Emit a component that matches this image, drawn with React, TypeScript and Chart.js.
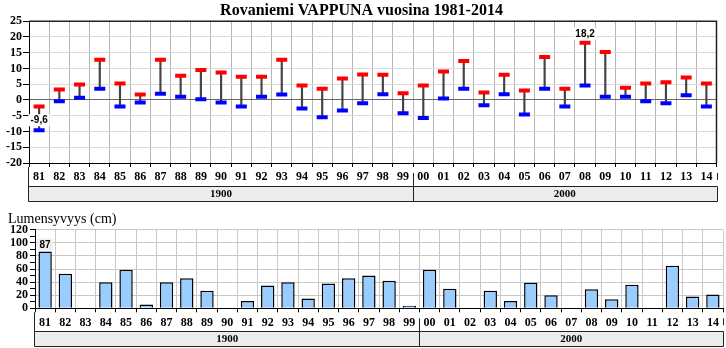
import React, { useEffect, useRef } from 'react';
import { Chart, registerables } from 'chart.js';

Chart.register(...registerables);

const years = ['81','82','83','84','85','86','87','88','89','90','91','92','93','94','95','96','97','98','99',
  '00','01','02','03','04','05','06','07','08','09','10','11','12','13','14'];
const maxTemp = [-2.1, 3.3, 4.9, 12.8, 5.2, 1.7, 12.8, 7.7, 9.5, 8.7, 7.4, 7.4, 12.8, 4.6, 3.6, 6.8, 8.1, 8.0, 2.1,
  4.6, 9.0, 12.4, 2.4, 8.0, 3.0, 13.6, 3.6, 18.2, 15.2, 3.9, 5.2, 5.6, 7.1, 5.2];
const minTemp = [-9.6, -0.4, 0.7, 3.6, -2.1, -0.8, 2.0, 1.0, 0.2, -0.8, -2.1, 1.0, 1.7, -2.7, -5.5, -3.3, -1.0, 1.8, -4.2,
  -5.7, 0.5, 3.6, -1.7, 1.8, -4.6, 3.6, -2.1, 4.6, 1.0, 1.0, -0.4, -1.0, 1.5, -2.1];
const snowDepth = [87, 53, 0, 40, 59, 6, 40, 46, 27, 0, 11, 35, 40, 15, 38, 46, 50, 42, 4,
  59, 30, 0, 27, 11, 39, 20, 0, 29, 14, 36, 0, 65, 18, 21];
const groupLabels = ['1900', '2000'];
const groupSizes = [19, 15];
const tempMin = -20, tempMax = 25, tempStep = 5;
const snowMin = 0, snowMax = 120, snowStep = 20;

const title = 'Rovaniemi VAPPUNA vuosina 1981-2014';
const snowTitle = 'Lumensyvyys (cm)';

const SERIF = "'Liberation Serif', 'Times New Roman', serif";
const SANS = "'Liberation Sans', Arial, sans-serif";

const fmt = (v: number) => String(v).replace('.', ',');

const groupPlugin = {
  id: 'groupRow',
  afterDraw(chart: any) {
    const { ctx, chartArea, scales } = chart;
    const x = scales.x;
    const b = chartArea.bottom;
    const half = (x.getPixelForValue(1) - x.getPixelForValue(0)) / 2;
    const top = Math.round(b + 23) + 0.5;
    const bot = Math.round(b + 38) + 0.5;
    const left = Math.round(chartArea.left) - 0.5;
    const right = Math.round(chartArea.right) + 0.5;
    ctx.save();
    ctx.fillStyle = '#ececec';
    ctx.fillRect(left, top, right - left, bot - top);
    ctx.strokeStyle = '#222';
    ctx.lineWidth = 1;
    ctx.beginPath();
    ctx.moveTo(left, top); ctx.lineTo(right, top);
    ctx.moveTo(left, bot); ctx.lineTo(right, bot);
    ctx.moveTo(right, top); ctx.lineTo(right, bot);
    ctx.moveTo(left, b + 4); ctx.lineTo(left, bot);
    ctx.moveTo(right, b + 10); ctx.lineTo(right, b + 17);
    ctx.stroke();
    let idx = 0;
    ctx.font = `bold 11px ${SERIF}`;
    ctx.fillStyle = '#000';
    ctx.textAlign = 'center';
    ctx.textBaseline = 'middle';
    groupLabels.forEach((lab, g) => {
      const s = x.getPixelForValue(idx) - half;
      const e = x.getPixelForValue(idx + groupSizes[g] - 1) + half;
      if (g > 0) {
        const px = Math.round(s) + 0.5;
        ctx.beginPath();
        ctx.moveTo(px, b + 10); ctx.lineTo(px, bot);
        ctx.stroke();
      }
      ctx.fillText(lab, (s + e) / 2, (top + bot) / 2 + 0.5);
      idx += groupSizes[g];
    });
    ctx.restore();
  },
};

const borderPlugin = {
  id: 'boxBorder',
  afterDraw(chart: any) {
    const { ctx, chartArea } = chart;
    ctx.save();
    ctx.strokeStyle = '#222';
    ctx.lineWidth = 1.5;
    ctx.beginPath();
    ctx.moveTo(chartArea.left, chartArea.top);
    ctx.lineTo(chartArea.right, chartArea.top);
    ctx.lineTo(chartArea.right, chartArea.bottom);
    ctx.stroke();
    ctx.restore();
  },
};

const labelPlugin = {
  id: 'valueLabels',
  afterDraw(chart: any, _args: any, opts: any) {
    const { ctx, scales } = chart;
    const items = opts.items || [];
    ctx.save();
    ctx.font = `bold 10px ${SANS}`;
    ctx.textAlign = 'center';
    ctx.textBaseline = 'middle';
    items.forEach((it: any) => {
      const px = scales.x.getPixelForValue(it.index);
      const py = scales.y.getPixelForValue(it.value) + it.dy;
      const w = ctx.measureText(it.text).width + 4;
      ctx.fillStyle = it.bg;
      ctx.fillRect(px - w / 2, py - 6, w, 12);
      ctx.fillStyle = '#000';
      ctx.fillText(it.text, px, py + 0.5);
    });
    ctx.restore();
  },
};

const tickFont = { family: SERIF, size: 12, weight: 'bold' as const };

function TempChart() {
  const ref = useRef<HTMLCanvasElement>(null);
  useEffect(() => {
    const minIdx = minTemp.indexOf(Math.min(...minTemp));
    const maxIdx = maxTemp.indexOf(Math.max(...maxTemp));
    const chart = new Chart(ref.current as HTMLCanvasElement, {
      type: 'bar',
      data: {
        labels: years,
        datasets: [
          {
            type: 'line' as any,
            data: maxTemp,
            showLine: false,
            pointStyle: 'line',
            pointRadius: 5.5,
            pointBorderWidth: 4,
            pointBorderColor: '#ff0000',
            pointBackgroundColor: '#ff0000',
            order: 1,
          } as any,
          {
            type: 'line' as any,
            data: minTemp,
            showLine: false,
            pointStyle: 'line',
            pointRadius: 5.5,
            pointBorderWidth: 4,
            pointBorderColor: '#0000ff',
            pointBackgroundColor: '#0000ff',
            order: 2,
          } as any,
          {
            type: 'bar',
            data: years.map((_, i) => [minTemp[i], maxTemp[i]]),
            backgroundColor: '#444',
            barThickness: 1.5,
            order: 3,
          } as any,
        ],
      },
      options: {
        responsive: false,
        animation: false,
        events: [],
        layout: { padding: { left: 0, right: 3, top: 0, bottom: 0 } },
        plugins: {
          legend: { display: false },
          tooltip: { enabled: false },
          title: {
            display: true,
            text: title,
            color: '#000',
            font: { family: SERIF, size: 16, weight: 'bold' },
            padding: { top: 1, bottom: 1 },
          },
          valueLabels: {
            items: [
              { index: minIdx, value: minTemp[minIdx], text: fmt(minTemp[minIdx]), dy: -10, bg: '#fff' },
              { index: maxIdx, value: maxTemp[maxIdx], text: fmt(maxTemp[maxIdx]), dy: -9, bg: '#fff' },
            ],
          },
        } as any,
        scales: {
          x: {
            offset: true,
            grid: { offset: true, color: '#b4b4b4', tickColor: '#000', tickLength: 4, drawOnChartArea: true },
            border: { color: '#000' },
            ticks: { color: '#000', font: tickFont, padding: 3, maxRotation: 0, autoSkip: false },
            afterFit: (s: any) => { s.height = 42; },
          },
          y: {
            min: tempMin,
            max: tempMax,
            grid: {
              color: (c: any) => (c.tick && c.tick.value === 0 ? '#666' : '#dcdcdc'),
              tickColor: '#000',
              tickLength: 6,
            },
            border: { color: '#000' },
            ticks: { stepSize: tempStep, color: '#000', font: tickFont, padding: 1, autoSkip: false },
            afterFit: (s: any) => { s.width = 29; },
          },
        },
      },
      plugins: [groupPlugin, borderPlugin, labelPlugin],
    });
    return () => chart.destroy();
  }, []);
  return <canvas ref={ref} width={726} height={205} style={{ display: 'block' }} />;
}

function SnowChart() {
  const ref = useRef<HTMLCanvasElement>(null);
  useEffect(() => {
    const maxIdx = snowDepth.indexOf(Math.max(...snowDepth));
    const chart = new Chart(ref.current as HTMLCanvasElement, {
      type: 'bar',
      data: {
        labels: years,
        datasets: [
          {
            data: snowDepth,
            backgroundColor: '#99ccff',
            borderColor: '#000',
            borderWidth: 1.5,
            barPercentage: 0.66,
            categoryPercentage: 1,
          },
        ],
      },
      options: {
        responsive: false,
        animation: false,
        events: [],
        layout: { padding: { left: 8, right: 3, top: 0, bottom: 0 } },
        plugins: {
          legend: { display: false },
          tooltip: { enabled: false },
          title: {
            display: true,
            text: snowTitle,
            align: 'start',
            color: '#000',
            font: { family: SERIF, size: 14, weight: 'normal' },
            padding: { top: 6, bottom: 2 },
          },
          valueLabels: {
            items: [
              { index: maxIdx, value: snowDepth[maxIdx], text: fmt(snowDepth[maxIdx]), dy: -7, bg: '#eeeeee' },
            ],
          },
        } as any,
        scales: {
          x: {
            offset: true,
            grid: { offset: true, color: '#c8c8c8', tickColor: '#000', tickLength: 4 },
            border: { color: '#000' },
            ticks: { color: '#000', font: tickFont, padding: 3, maxRotation: 0, autoSkip: false },
            afterFit: (s: any) => { s.height = 39.7; },
          },
          y: {
            min: snowMin,
            max: snowMax,
            grid: {
              color: (c: any) => (c.tick && c.tick.value % snowStep === 0 ? '#c8c8c8' : 'rgba(0,0,0,0)'),
              tickColor: '#000',
              tickLength: 5,
            },
            border: { color: '#000' },
            ticks: {
              stepSize: snowStep / 2,
              autoSkip: false,
              color: '#000',
              font: tickFont,
              padding: 2,
              callback: (v: any) => (Number(v) % snowStep === 0 ? String(v) : ''),
            },
            afterFit: (s: any) => { s.width = 27; },
          },
        },
      },
      plugins: [groupPlugin, labelPlugin],
    });
    return () => chart.destroy();
  }, []);
  return <canvas ref={ref} width={726} height={143} style={{ display: 'block' }} />;
}

export default function App() {
  return (
    <div style={{ position: 'absolute', left: 0, top: 0, width: 726, height: 348, background: '#fff' }}>
      <TempChart />
      <SnowChart />
    </div>
  );
}
